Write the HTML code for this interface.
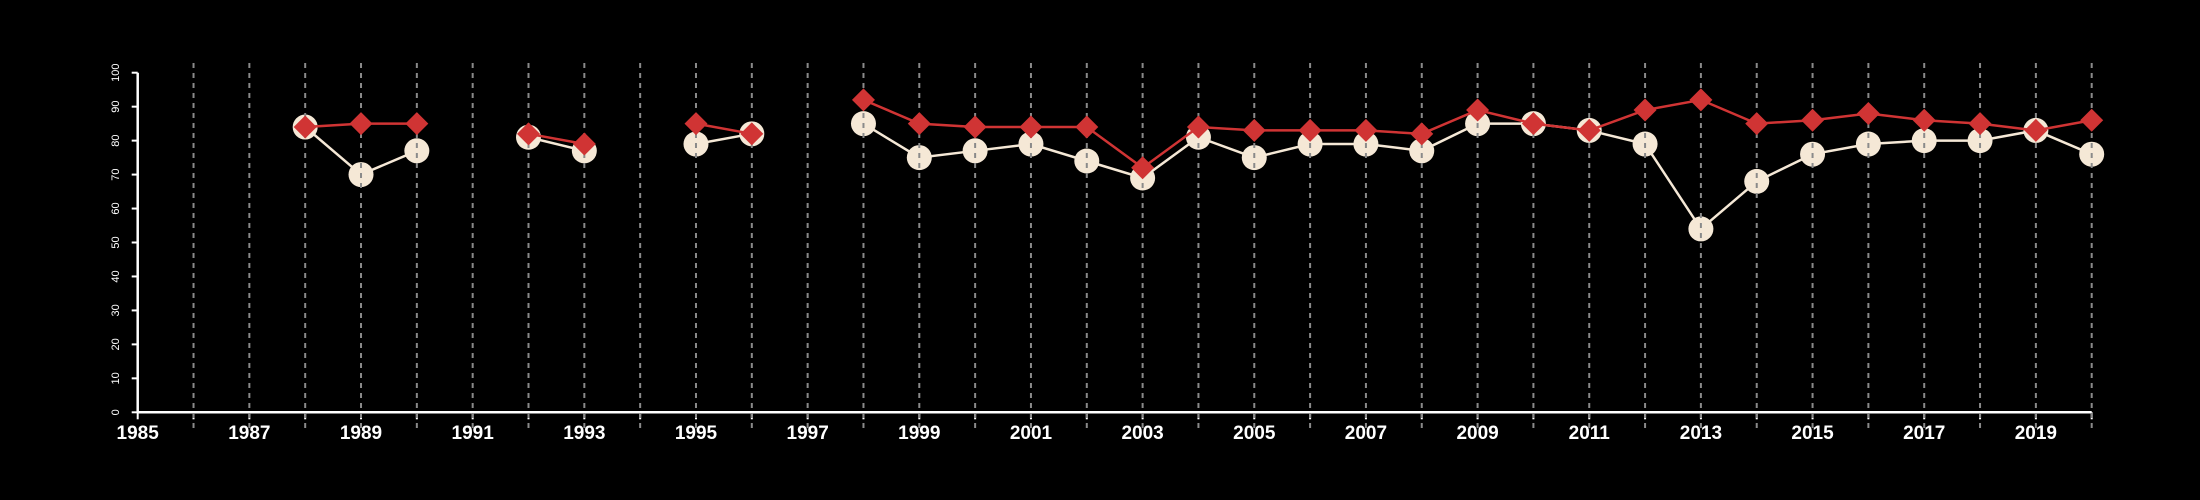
<!DOCTYPE html>
<html><head><meta charset="utf-8"><style>
html,body{margin:0;padding:0;background:#000;}
svg{display:block;font-family:"Liberation Sans",sans-serif;}
</style></head><body>
<svg id="chart" width="2200" height="500" viewBox="0 0 2200 500" xmlns="http://www.w3.org/2000/svg">
<rect width="2200" height="500" fill="#000"/>
<g id="grid"></g>
<g id="axes"></g>
<g id="series"></g>
</svg>
<script>
const years = [1988,1989,1990,1991,1992,1993,1994,1995,1996,1997,1998,1999,2000,2001,2002,2003,2004,2005,2006,2007,2008,2009,2010,2011,2012,2013,2014,2015,2016,2017,2018,2019,2020];
const whiteValues = [84,70,77,null,81,77,null,79,82,null,85,75,77,79,74,69,81,75,79,79,77,85,85,83,79,54,68,76,79,80,80,83,76];
const redValues = [84,85,85,null,82,79,null,85,82,null,92,85,84,84,84,72,84,83,83,83,82,89,85,83,89,92,85,86,88,86,85,83,86];
const yTicks = [0,10,20,30,40,50,60,70,80,90,100];
const xMin = 1985, xMax = 2020;

const NS = "http://www.w3.org/2000/svg";
const X0 = 137.7, X1 = 2091.7, Y0 = 412.3, Y1 = 72.7;
function xs(v){ return X0 + (v - xMin) / (xMax - xMin) * (X1 - X0); }
function ys(v){ return Y0 - v / 100 * (Y0 - Y1); }
function mk(tag, attrs, parent){ const e = document.createElementNS(NS, tag); for (const k in attrs) e.setAttribute(k, attrs[k]); parent.appendChild(e); return e; }

const grid = document.getElementById('grid');
const axes = document.getElementById('axes');
const series = document.getElementById('series');

// white series line & circles
function segments(vals){
  const segs = []; let cur = [];
  vals.forEach((v,i)=>{ if (v === null){ if (cur.length) segs.push(cur); cur = []; } else cur.push([xs(years[i]), ys(v)]); });
  if (cur.length) segs.push(cur);
  return segs;
}
segments(whiteValues).forEach(s=>{
  const p = mk('polyline', {points: s.map(q=>q.join(',')).join(' '), fill:'none', stroke:'#f5e8d6', 'stroke-width':2.5}, series);
  
  
});
whiteValues.forEach((v,i)=>{
  if (v === null) return;
  const c = mk('circle', {cx: xs(years[i]), cy: ys(v), r: 12.5, fill:'#f5e8d6'}, series);
  
  
});

// gridlines (drawn over circles)
const gWrap = mk('g', {}, series);
for (let y = xMin + 1; y <= xMax; y++){
  const l = mk('line', {x1: xs(y), x2: xs(y), y1: 63, y2: 428, stroke:'#8a8a8a', 'stroke-width':2, 'stroke-dasharray':'5,5'}, gWrap);
  
  
}

// red series
segments(redValues).forEach(s=>{
  const p = mk('polyline', {points: s.map(q=>q.join(',')).join(' '), fill:'none', stroke:'#d03434', 'stroke-width':2.5}, series);
  
  
});
redValues.forEach((v,i)=>{
  if (v === null) return;
  const cx = xs(years[i]), cy = ys(v), d = 11.5;
  const p = mk('polygon', {points: `${cx},${cy-d} ${cx+d},${cy} ${cx},${cy+d} ${cx-d},${cy}`, fill:'#d03434'}, series);
  
  
});

// axes
const ya = mk('line', {x1:X0, x2:X0, y1:Y1, y2:Y0, stroke:'#fff', 'stroke-width':2.5}, axes);


yTicks.forEach(t=>{
  const y = ys(t);
  const tk = mk('line', {x1:X0-6, x2:X0, y1:y, y2:y, stroke:'#fff', 'stroke-width':2}, axes);
  
  
  const tx = mk('text', {x:0, y:0, transform:`translate(119,${y}) rotate(-90)`, 'text-anchor':'middle', fill:'#fff', 'font-size':11}, axes);
  tx.textContent = t;
  
  
});
const xa = mk('line', {x1:X0, x2:X1, y1:Y0, y2:Y0, stroke:'#fff', 'stroke-width':2.5}, axes);


for (let y = xMin; y <= xMax; y++){
  const x = xs(y);
  const tk = mk('line', {x1:x, x2:x, y1:Y0, y2:Y0+7, stroke:'#fff', 'stroke-width':2}, axes);
  
  
  if ((y - xMin) % 2 === 0){
    const tx = mk('text', {x:x, y:439, 'text-anchor':'middle', fill:'#fff', 'font-size':19, 'font-weight':'bold'}, axes);
    tx.textContent = y;
    
    
  }
}
</script>
</body></html>
